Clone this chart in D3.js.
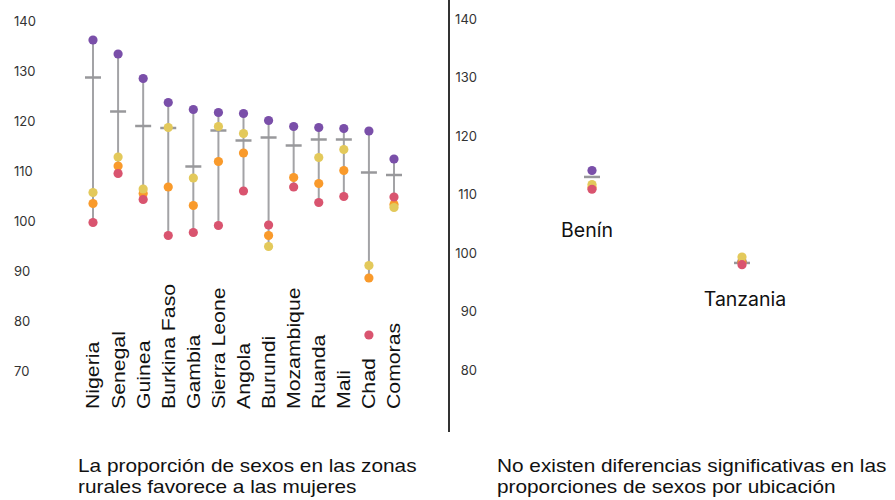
<!DOCTYPE html>
<html><head><meta charset="utf-8">
<script src="https://cdn.jsdelivr.net/npm/d3@7"></script>
<style>body{margin:0;background:#fff}svg{display:block}</style>
</head><body>
<script>
const leftCountries = ["Nigeria","Senegal","Guinea","Burkina Faso","Gambia","Sierra Leone","Angola","Burundi","Mozambique","Ruanda","Mali","Chad","Comoras"];
const leftPurple = [136.2,133.4,128.5,123.7,122.3,121.7,121.5,120.1,118.9,118.7,118.5,118.0,112.4];
const leftYellow = [105.7,112.8,106.4,118.7,108.6,118.9,117.5,94.9,null,112.7,114.3,91.1,102.7];
const leftOrange = [103.5,111.0,105.5,106.8,103.1,111.9,113.6,97.1,108.7,107.5,110.1,88.6,103.3];
const leftRed    = [99.7,109.5,104.3,97.1,97.7,99.1,106.0,99.2,106.8,103.7,104.9,77.2,104.8];
const leftMean   = [128.7,121.9,119.0,118.6,110.9,118.1,116.1,116.7,115.1,116.3,116.3,109.7,109.2];
const detachedRed = ["Chad"];
const leftTicks = [70,80,90,100,110,120,130,140];

const rightCountries = ["Benín","Tanzania"];
const rightPurple = [114.1,98.6];
const rightYellow = [111.7,99.3];
const rightOrange = [111.2,98.4];
const rightRed    = [110.9,98.0];
const rightMean   = [113.0,98.3];
const rightTicks = [80,90,100,110,120,130,140];

const captionLeft = ["La proporción de sexos en las zonas","rurales favorece a las mujeres"];
const captionRight = ["No existen diferencias significativas en las","proporciones de sexos por ubicación"];

const colors = {purple:"#7a4fa9", yellow:"#e3c95b", orange:"#f99a2b", red:"#d9546f"};
const W = 895, H = 500;
const svg = d3.select("body").append("svg").attr("width", W).attr("height", H);

// ---------- left panel ----------
const yL = d3.scaleLinear().domain([70,140]).range([371,21]);
const xL = d3.scalePoint().domain(leftCountries).range([93,394]);
const gL = svg.append("g");
const axL = d3.axisLeft(yL).tickValues(leftTicks).tickSize(0).tickPadding(0);
const axLG = gL.append("g").attr("transform","translate(14,0)").call(axL);
axLG.select(".domain").remove();
axLG.selectAll("text").attr("text-anchor","start").attr("font-family","Inter").attr("font-size",13).attr("fill","#333");

const leftData = leftCountries.map((c,i)=>({c, purple:leftPurple[i], yellow:leftYellow[i], orange:leftOrange[i], red:leftRed[i], mean:leftMean[i]}));
leftData.forEach(d=>{
  const vals = [d.purple,d.yellow,d.orange].concat(detachedRed.includes(d.c)?[]:[d.red]).filter(v=>v!=null);
  d.lo = d3.min(vals); d.hi = d3.max(vals);
});
gL.selectAll("line.rng").data(leftData).join("line").attr("class","rng")
  .attr("x1",d=>xL(d.c)).attr("x2",d=>xL(d.c)).attr("y1",d=>yL(d.hi)).attr("y2",d=>yL(d.lo))
  .attr("stroke","#a3a3a6").attr("stroke-width",2);
gL.selectAll("line.mean").data(leftData).join("line").attr("class","mean")
  .attr("x1",d=>xL(d.c)-8).attr("x2",d=>xL(d.c)+8).attr("y1",d=>yL(d.mean)).attr("y2",d=>yL(d.mean))
  .attr("stroke","#98989b").attr("stroke-width",2.5);
["purple","orange","yellow","red"].forEach(k=>{
  gL.selectAll("circle."+k).data(leftData.filter(d=>d[k]!=null)).join("circle").attr("class",k)
    .attr("cx",d=>xL(d.c)).attr("cy",d=>yL(d[k])).attr("r",4.6).attr("fill",colors[k]);
});
gL.selectAll("text.cat").data(leftCountries).join("text").attr("class","cat")
  .attr("transform",d=>`translate(${xL(d)},409) rotate(-90) scale(1.18,1)`)
  .attr("dy","0.36em").attr("font-family","Liberation Sans").attr("font-size",18).attr("fill","#111").text(d=>d);
captionLeft.forEach((t,i)=>svg.append("text").attr("transform",`translate(78,${472+i*21}) scale(1.124,1)`)
  .attr("font-family","Liberation Sans").attr("font-size",18.5).attr("fill","#111").text(t));

// ---------- separator ----------
svg.append("line").attr("x1",449).attr("x2",449).attr("y1",0).attr("y2",432).attr("stroke","#333").attr("stroke-width",2);

// ---------- right panel ----------
const yR = d3.scaleLinear().domain([80,140]).range([370,19]);
const xR = d3.scalePoint().domain(rightCountries).range([592,742]);
const gR = svg.append("g");
const axR = d3.axisLeft(yR).tickValues(rightTicks).tickSize(0).tickPadding(0);
const axRG = gR.append("g").attr("transform","translate(477,0)").call(axR);
axRG.select(".domain").remove();
axRG.selectAll("text").attr("font-family","Inter").attr("font-size",13).attr("fill","#333");
const rightData = rightCountries.map((c,i)=>({c, purple:rightPurple[i], yellow:rightYellow[i], orange:rightOrange[i], red:rightRed[i], mean:rightMean[i]}));
gR.selectAll("line.mean").data(rightData).join("line").attr("class","mean")
  .attr("x1",d=>xR(d.c)-8).attr("x2",d=>xR(d.c)+8).attr("y1",d=>yR(d.mean)).attr("y2",d=>yR(d.mean))
  .attr("stroke","#98989b").attr("stroke-width",2.5);
["purple","orange","yellow","red"].forEach(k=>{
  gR.selectAll("circle."+k).data(rightData).join("circle").attr("class",k)
    .attr("cx",d=>xR(d.c)).attr("cy",d=>yR(d[k])).attr("r",4.6).attr("fill",colors[k]);
});
gR.selectAll("text.lab").data(rightData).join("text").attr("class","lab")
  .attr("x",(d,i)=>xR(d.c)+[-5,3][i]).attr("y",(d,i)=>[237,306][i]).attr("text-anchor","middle")
  .attr("font-family","Inter").attr("font-size",19.5).attr("fill","#111").text(d=>d.c);
captionRight.forEach((t,i)=>svg.append("text").attr("transform",`translate(497,${472+i*21}) scale(1.124,1)`)
  .attr("font-family","Liberation Sans").attr("font-size",18.5).attr("fill","#111").text(t));
</script>
</body></html>
